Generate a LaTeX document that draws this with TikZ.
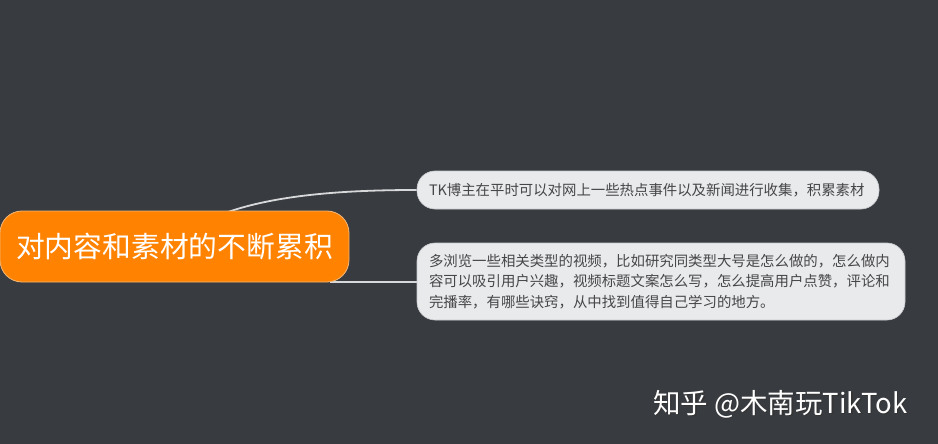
\documentclass[tikz,border=0pt]{standalone}
\usepackage{fontspec}
\setmainfont{Noto Sans CJK SC}
\usetikzlibrary{backgrounds}
\definecolor{bgc}{RGB}{56,59,64}
\definecolor{orangec}{RGB}{255,130,0}
\definecolor{orangeb}{RGB}{245,185,120}
\definecolor{leafc}{RGB}{233,234,236}
\definecolor{leafb}{RGB}{200,202,206}
\definecolor{leaft}{RGB}{70,70,72}
\definecolor{linec}{RGB}{215,216,218}
\tikzset{
  mainbox/.style={fill=orangec, draw=orangeb, line width=0.8pt, rounded corners=22pt,
    text=white, minimum width=349pt, minimum height=71pt, inner sep=0pt,
    font=\fontsize{28.8}{32}\selectfont},
  leafbox/.style={fill=leafc, draw=leafb, line width=0.6pt, rounded corners=18pt,
    text=leaft, inner xsep=12pt, inner ysep=0pt, align=left,
    font=\fontsize{14.4}{20.5}\selectfont},
  conn/.style={draw=linec, line width=1.8pt},
  wm/.style={text=white, font=\fontsize{27.5}{30}\selectfont, anchor=west, inner sep=0pt}
}
\begin{document}
\begin{tikzpicture}[x=1pt,y=-1pt]
\useasboundingbox (0,0) rectangle (938,444);
\begin{scope}[on background layer]
\fill[bgc] (0,0) rectangle (938,444);
\end{scope}
\node[mainbox] (main) at (174.5,246.5) {对内容和素材的不断累积};
\node[leafbox, text width=438pt, minimum height=38pt] (n1) at (648,190) {TK博主在平时可以对网上一些热点事件以及新闻进行收集，积累素材};
\node[leafbox, text width=464pt, minimum height=77pt] (n2) at (661,281.5) {多浏览一些相关类型的视频，比如研究同类型大号是怎么做的，怎么做内\\容可以吸引用户兴趣，视频标题文案怎么写，怎么提高用户点赞，评论和\\完播率，有哪些诀窍，从中找到值得自己学习的地方。};
\begin{scope}[on background layer]
\coordinate (c1) at (228,212);
\coordinate (c2) at (330,282);
\draw[conn] (c1) .. controls (280,194) and (350,190) .. (n1.west);
\draw[conn] (c2) .. controls (370,282) and (390,282) .. (n2.west |- c2);
\end{scope}
\node[wm, text=black!80, opacity=0.8] (wms) at (654.5,405.5) {知乎 @木南玩TikTok};
\node[wm] (wmt) at (653,404) {知乎 @木南玩TikTok};
\end{tikzpicture}
\end{document}
